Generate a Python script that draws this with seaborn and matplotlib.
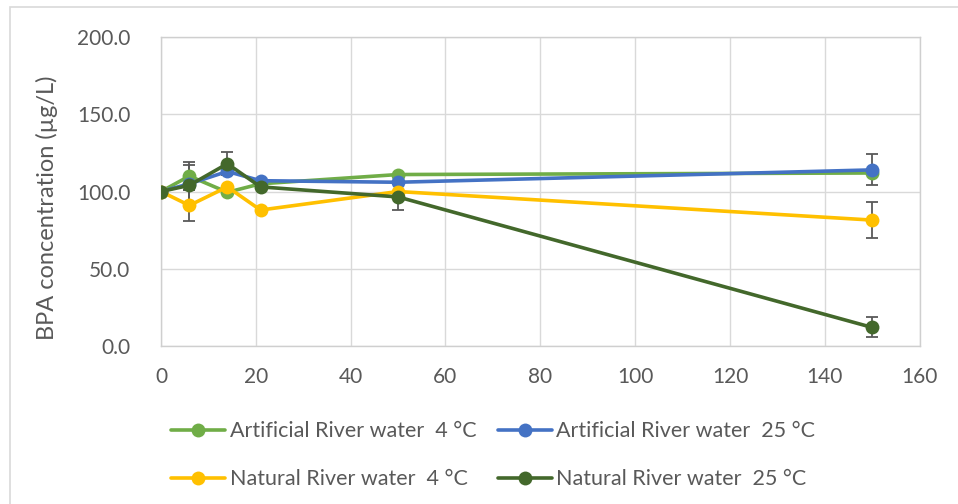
import numpy as np
import pandas as pd
import matplotlib
matplotlib.use("Agg")
import matplotlib.pyplot as plt
from matplotlib.lines import Line2D
from matplotlib.patches import Rectangle
import seaborn as sns

# Sampling days
days = [0, 6, 14, 21, 50, 150]

# BPA concentration (µg/L) for each water type / temperature
series_names = [
    "Artificial River water  4 °C",
    "Artificial River water  25 °C",
    "Natural River water  4 °C",
    "Natural River water  25 °C",
]
art_4 = [100, 110, 99.5, 105, 111, 112]
art_25 = [100, 105, 113, 107, 106, 114]
nat_4 = [100, 91, 103, 88, 100, 81.5]
nat_25 = [100, 104, 118, 103, 96.5, 12]

# Standard deviations (0 where no bar is shown)
art_4_err = [0, 9, 0, 0, 0, 0]
art_25_err = [0, 0, 0, 0, 0, 10]
nat_4_err = [0, 10, 0, 0, 0, 11.5]
nat_25_err = [0, 13, 7.5, 0, 8.5, 6.5]

colors = ["#70AD47", "#4472C4", "#FFC000", "#43682B"]

values = [art_4, art_25, nat_4, nat_25]
errors = [art_4_err, art_25_err, nat_4_err, nat_25_err]

df = pd.DataFrame({
    "day": np.tile(days, len(series_names)),
    "bpa": np.concatenate(values),
    "series": np.repeat(series_names, len(days)),
})

sns.set_theme(style="white")
plt.rcParams["font.family"] = ["Lato", "DejaVu Sans"]

fig = plt.figure(figsize=(9.58, 5.04), dpi=100)
ax = fig.add_axes([0.168, 0.3135, 0.792, 0.613])

grey = "#595959"
grid_c = "#d9d9d9"

sns.lineplot(
    data=df, x="day", y="bpa", hue="series", hue_order=series_names,
    palette=colors, marker="o", markersize=10, markeredgewidth=0,
    linewidth=2.6, errorbar=None, legend=False, ax=ax, zorder=3,
)

for vals, errs in zip(values, errors):
    e = np.array(errs, dtype=float)
    mask = e > 0
    ax.errorbar(
        np.array(days)[mask], np.array(vals)[mask], yerr=e[mask],
        fmt="none", ecolor=grey, elinewidth=1.3, capsize=4.5,
        capthick=1.3, zorder=2,
    )

ax.set_xlim(0, 160)
ax.set_ylim(0, 200)
ax.set_xticks(np.arange(0, 161, 20))
ax.set_yticks(np.arange(0, 201, 50))
ax.set_yticklabels([f"{v:.1f}" for v in np.arange(0, 201, 50)])
ax.tick_params(axis="both", length=0, labelsize=15, labelcolor=grey)
ax.tick_params(axis="x", pad=15)
ax.tick_params(axis="y", pad=22)
ax.grid(True, color=grid_c, linewidth=1)
ax.set_axisbelow(True)
for s in ax.spines.values():
    s.set_color("#cfcfcf")
    s.set_linewidth(1)
ax.set_xlabel("")
ax.set_ylabel("BPA concentration (µg/L)", fontsize=17, color=grey)
ax.yaxis.set_label_coords(-0.136, 0.447)

handles = [
    Line2D([0], [0], color=c, lw=2.6, marker="o", markersize=10, markeredgewidth=0)
    for c in colors
]
# legend fills column-wise; reorder so rows read across
order = [0, 2, 1, 3]
fig.legend(
    [handles[i] for i in order], [series_names[i] for i in order],
    loc="upper left", bbox_to_anchor=(0.179, 0.164),
    ncol=2, frameon=False, fontsize=15.5, labelcolor=grey,
    handlelength=2.5, handletextpad=0.2, columnspacing=1.0,
    labelspacing=1.3, borderaxespad=0, borderpad=0,
)

# Chart area outline
fig.patches.append(Rectangle(
    (10 / 958, -0.02), 1.1, 1 - 7 / 504 + 0.02, transform=fig.transFigure,
    fill=False, edgecolor=grid_c, linewidth=1.2,
))

fig.savefig("out.png", dpi=100)
